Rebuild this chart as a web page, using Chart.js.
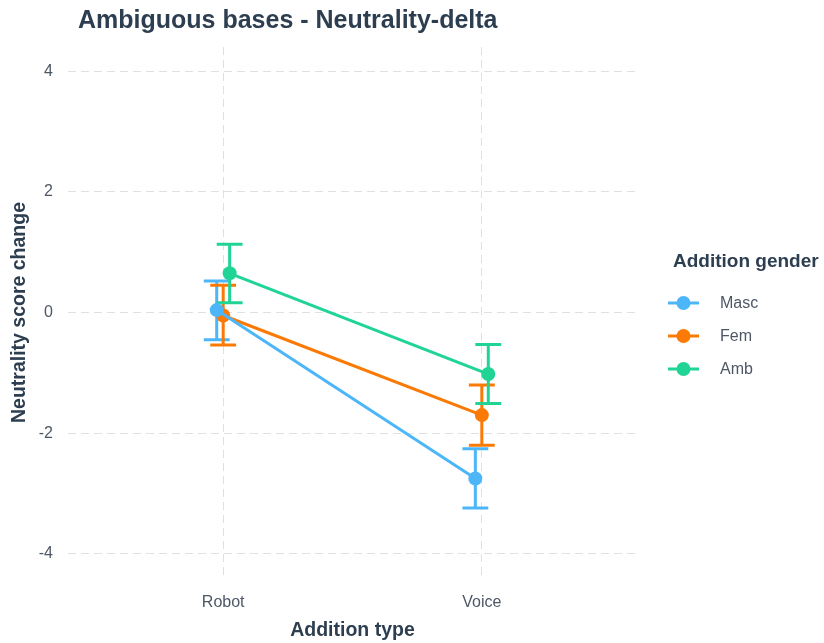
<!DOCTYPE html>
<html>
<head>
<meta charset="utf-8">
<script src="https://cdn.jsdelivr.net/npm/chart.js@4/dist/chart.umd.min.js"></script>
<style>
  html, body { margin: 0; padding: 0; background: #fff; }
</style>
</head>
<body>
<canvas id="myChart" width="824" height="643"></canvas>
<script>
// data
const categories = ["Robot", "Voice"];
const genders = ["Masc", "Fem", "Amb"];
const mascMean = [0.04, -2.75];
const mascLow = [-0.45, -3.24];
const mascHigh = [0.52, -2.26];
const femMean = [-0.05, -1.70];
const femLow = [-0.54, -2.20];
const femHigh = [0.45, -1.20];
const ambMean = [0.65, -1.02];
const ambLow = [0.16, -1.51];
const ambHigh = [1.13, -0.53];
const yTicks = [-4, -2, 0, 2, 4];

const colors = ["#4db6f9", "#fb7a05", "#20d495"];
const dodge = [-0.025, 0, 0.025];
const means = [mascMean, femMean, ambMean];
const lows = [mascLow, femLow, ambLow];
const highs = [mascHigh, femHigh, ambHigh];

const darkText = "#2c3e50";
const tickText = "#4d5766";
const gridColor = "#e0e0e0";
const fontFamily = "'Liberation Sans', Arial, sans-serif";

const datasets = genders.map((g, i) => ({
  label: g,
  data: means[i].map((v, j) => ({ x: j + 1 + dodge[i], y: v })),
  borderColor: colors[i],
  backgroundColor: colors[i],
  borderWidth: 3,
  pointRadius: 7,
  pointHoverRadius: 7,
  pointBorderWidth: 0,
  pointBackgroundColor: colors[i],
  tension: 0,
}));

// error bars + title + legend, drawn on the canvas
const extras = {
  id: "extras",
  beforeDatasetsDraw(chart) {
    const ctx = chart.ctx;
    const xs = chart.scales.x;
    const ys = chart.scales.y;
    ctx.save();
    ctx.lineWidth = 3;
    ctx.lineCap = "butt";
    genders.forEach((g, i) => {
      ctx.strokeStyle = colors[i];
      categories.forEach((c, j) => {
        const xv = j + 1 + dodge[i];
        const x = xs.getPixelForValue(xv);
        const x0 = xs.getPixelForValue(xv - 0.05);
        const x1 = xs.getPixelForValue(xv + 0.05);
        const yl = ys.getPixelForValue(lows[i][j]);
        const yh = ys.getPixelForValue(highs[i][j]);
        ctx.beginPath();
        ctx.moveTo(x, yl); ctx.lineTo(x, yh);
        ctx.moveTo(x0, yl); ctx.lineTo(x1, yl);
        ctx.moveTo(x0, yh); ctx.lineTo(x1, yh);
        ctx.stroke();
      });
    });
    ctx.restore();
  },
  afterDraw(chart) {
    const ctx = chart.ctx;
    ctx.save();
    // title
    ctx.fillStyle = darkText;
    ctx.font = "bold 25px " + fontFamily;
    ctx.textBaseline = "alphabetic";
    ctx.textAlign = "left";
    ctx.fillText("Ambiguous bases - Neutrality-delta", 78, 28);
    // legend
    ctx.font = "bold 19px " + fontFamily;
    ctx.fillText("Addition gender", 673, 267);
    ctx.font = "16px " + fontFamily;
    genders.forEach((g, i) => {
      const cy = 303 + i * 33;
      ctx.strokeStyle = colors[i];
      ctx.fillStyle = colors[i];
      ctx.lineWidth = 3;
      ctx.beginPath();
      ctx.moveTo(668, cy); ctx.lineTo(699, cy);
      ctx.stroke();
      ctx.beginPath();
      ctx.arc(683.5, cy, 7, 0, Math.PI * 2);
      ctx.fill();
      ctx.fillStyle = tickText;
      ctx.textBaseline = "middle";
      ctx.fillText(g, 720, cy + 1);
    });
    ctx.restore();
  },
};

new Chart(document.getElementById("myChart"), {
  type: "line",
  data: { datasets: datasets },
  plugins: [extras],
  options: {
    responsive: false,
    animation: false,
    devicePixelRatio: 1,
    layout: { padding: { top: 47, right: 187, left: 0, bottom: 0 } },
    plugins: {
      legend: { display: false },
      tooltip: { enabled: false },
      title: { display: false },
    },
    scales: {
      x: {
        type: "linear",
        min: 0.4,
        max: 2.6,
        afterBuildTicks: (s) => { s.ticks = categories.map((c, i) => ({ value: i + 1 })); },
        afterFit: (s) => { s.height = 643 - 578; },
        ticks: {
          callback: (v) => categories[v - 1],
          color: tickText,
          font: { family: fontFamily, size: 16 },
          padding: 15,
        },
        grid: { color: gridColor, lineWidth: 1, drawTicks: false },
        border: { display: false, dash: [8, 5] },
        title: {
          display: true,
          text: "Addition type",
          color: darkText,
          font: { family: fontFamily, size: 19.5, weight: "bold" },
          padding: { top: 0, bottom: 1 },
        },
      },
      y: {
        min: -4.4,
        max: 4.4,
        afterBuildTicks: (s) => { s.ticks = yTicks.map((v) => ({ value: v })); },
        afterFit: (s) => { s.width = 68; },
        ticks: {
          color: tickText,
          font: { family: fontFamily, size: 16 },
          padding: 15,
        },
        grid: { color: gridColor, lineWidth: 1, drawTicks: false },
        border: { display: false, dash: [8, 5] },
        title: {
          display: true,
          text: "Neutrality score change",
          color: darkText,
          font: { family: fontFamily, size: 19.5, weight: "bold" },
          padding: { top: 8, bottom: 0 },
        },
      },
    },
  },
});
</script>
</body>
</html>
